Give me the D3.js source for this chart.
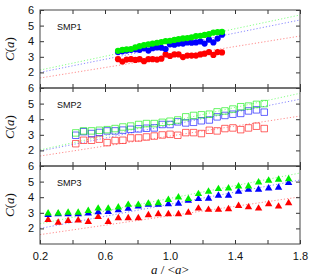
<!DOCTYPE html>
<html>
<head>
<meta charset="utf-8">
<script src="https://cdn.jsdelivr.net/npm/d3@7"></script>
<style>
  body { margin: 0; background: #fff; }
  svg { display: block; }
</style>
</head>
<body>
<div class="chart"></div>
<script>
// x ticks and panel names
const xTicks = [0.2, 0.4, 0.6, 0.8, 1.0, 1.2, 1.4, 1.6, 1.8]
const xLabels = [0.2, 0.6, 1.0, 1.4, 1.8]
const yTicks = [2, 3, 4, 5, 6]
const panels = ['SMP1', 'SMP2', 'SMP3']

// x positions of the points in each panel
const x1 = [0.68,0.707,0.733,0.76,0.787,0.813,0.84,0.867,0.893,0.92,0.947,0.973,1.0,1.027,1.053,1.08,1.107,1.133,1.16,1.187,1.213,1.24,1.267,1.293,1.32]
const x2 = [0.42,0.468,0.517,0.565,0.613,0.662,0.71,0.758,0.807,0.855,0.903,0.952,1.0,1.048,1.097,1.145,1.193,1.242,1.29,1.338,1.387,1.435,1.483,1.532,1.58]
const x3 = [0.25,0.312,0.373,0.435,0.497,0.558,0.62,0.682,0.743,0.805,0.867,0.928,0.99,1.052,1.113,1.175,1.237,1.298,1.36,1.422,1.483,1.545,1.607,1.668,1.73]

// SMP1 (filled circles)
const smp1Red   = [2.85,2.7,2.82,2.85,2.8,2.85,2.72,2.85,2.85,2.82,2.88,3.15,3.05,3.15,3.15,2.98,3.08,3.08,3.08,3.15,3.2,3.3,3.12,3.3,3.28]
const smp1Blue  = [3.3,3.35,3.4,3.45,3.48,3.45,3.55,3.4,3.55,3.6,3.58,3.5,3.8,3.78,3.85,3.85,3.92,3.9,3.92,3.98,3.85,4.1,3.92,4.17,4.42]
const smp1Green = [3.38,3.45,3.48,3.5,3.6,3.68,3.75,3.8,3.85,3.9,3.95,4.0,4.03,4.08,4.13,4.18,4.2,4.25,4.33,4.35,4.4,4.45,4.55,4.58,4.6]

// SMP2 (open squares)
const smp2Red   = [2.43,2.65,2.65,2.72,2.5,2.63,2.65,2.8,2.8,2.86,2.92,2.99,3.03,2.97,3.14,3.14,3.08,3.29,3.25,3.4,3.44,3.33,3.44,3.55,3.4]
const smp2Blue  = [2.97,3.2,3.08,3.15,3.25,3.25,3.3,3.35,3.38,3.42,3.44,3.66,3.66,3.83,3.76,3.8,3.9,3.95,4.15,4.24,4.32,4.37,4.53,4.6,4.45]
const smp2Green = [3.12,3.25,3.25,3.29,3.33,3.4,3.5,3.56,3.66,3.72,3.72,3.8,3.87,3.95,4.15,4.24,4.28,4.32,4.47,4.53,4.65,4.8,4.84,4.95,5.0]

// SMP3 (filled triangles)
const smp3Red   = [2.58,2.41,2.52,2.55,2.45,2.77,2.45,2.69,2.69,2.69,2.88,2.95,2.95,2.95,3.05,3.31,3.23,3.23,3.27,3.48,3.39,3.31,3.59,3.44,3.66]
const smp3Blue  = [2.9,2.95,2.95,2.95,3.0,3.08,3.1,3.2,3.3,3.44,3.55,3.55,3.59,3.62,3.81,3.92,3.94,4.13,4.13,4.39,4.52,4.52,4.6,4.65,4.95]
const smp3Green = [3.0,3.0,3.05,3.05,3.16,3.31,3.31,3.38,3.55,3.55,3.63,3.65,3.87,4.02,3.92,4.24,4.39,4.56,4.6,4.73,4.73,4.99,5.1,5.16,5.2]

// dotted fit lines: value at x=0.2 and x=1.8, order red, blue, green
const fitX = [0.2, 1.8]
const fit1 = [[1.64, 4.33], [2.0, 5.36], [2.15, 5.68]]
const fit2 = [[1.64, 4.2], [1.96, 5.28], [2.03, 5.66]]
const fit3 = [[1.6, 4.02], [2.0, 5.1], [2.3, 5.55]]

const w = 311, h = 280
const left = 40, right = 300
const tops = [10, 88, 166], ph = 78

const colors = ['#ff0000', '#0000ff', '#00ee00']
const fitColors = ['#ff8c8c', '#8a8aff', '#88ff88']

const data = [
  { xs: x1, ys: [smp1Red, smp1Blue, smp1Green], fit: fit1, kind: 'circle' },
  { xs: x2, ys: [smp2Red, smp2Blue, smp2Green], fit: fit2, kind: 'square' },
  { xs: x3, ys: [smp3Red, smp3Blue, smp3Green], fit: fit3, kind: 'triangle' }
]

const svg = d3.select('.chart').append('svg')
    .attr('width', w)
    .attr('height', h)

const x = d3.scaleLinear().domain([0.2, 1.8]).range([left, right])

data.forEach((p, k) => {
  const top = tops[k]
  const y = d3.scaleLinear().domain([1, 6]).range([top + ph, top])
  const g = svg.append('g')

  // fit lines
  p.fit.forEach((f, s) => {
    g.append('path')
      .datum(fitX.map((v, i) => [v, f[i]]))
      .attr('d', d3.line().x(d => x(d[0])).y(d => y(d[1])))
      .attr('fill', 'none')
      .attr('stroke', fitColors[s])
      .attr('stroke-width', 1)
      .attr('stroke-dasharray', '1.2,2')
  })

  // markers
  p.ys.forEach((vals, s) => {
    const pts = vals.map((v, i) => [p.xs[i], v])
    if (p.kind == 'circle') {
      g.selectAll(null).data(pts).enter().append('circle')
        .attr('cx', d => x(d[0]))
        .attr('cy', d => y(d[1]))
        .attr('r', 3.1)
        .attr('fill', colors[s])
    } else if (p.kind == 'square') {
      g.selectAll(null).data(pts).enter().append('path')
        .attr('d', d3.symbol(d3.symbolSquare, 42))
        .attr('transform', d => `translate(${x(d[0])},${y(d[1])})`)
        .attr('fill', 'none')
        .attr('stroke', colors[s])
        .attr('stroke-opacity', 0.6)
        .attr('stroke-width', 1)
    } else {
      g.selectAll(null).data(pts).enter().append('path')
        .attr('d', d3.symbol(d3.symbolTriangle, 24))
        .attr('transform', d => `translate(${x(d[0])},${y(d[1]) + 0.5})`)
        .attr('fill', colors[s])
    }
  })

  // axes with inward ticks
  const yl = g.append('g').attr('transform', `translate(${left},0)`)
    .call(d3.axisLeft(y).tickValues(yTicks).tickSize(-4).tickPadding(6).tickFormat(d3.format('d')))
  const yr = g.append('g').attr('transform', `translate(${right},0)`)
    .call(d3.axisRight(y).tickValues(yTicks).tickSize(-4).tickFormat(''))
  const xt = g.append('g').attr('transform', `translate(0,${top})`)
    .call(d3.axisTop(x).tickValues(xTicks).tickSize(-4).tickFormat(''))
  const xb = g.append('g').attr('transform', `translate(0,${top + ph})`)
    .call(d3.axisBottom(x).tickValues(xTicks).tickSize(-4).tickPadding(8)
      .tickFormat(d => (k == 2 && xLabels.some(v => Math.abs(v - d) < 1e-6)) ? d3.format('.1f')(d) : ''))

  ;[yl, yr, xt, xb].forEach(a => {
    a.select('.domain').remove()
    a.selectAll('line').attr('stroke', '#333')
    a.selectAll('text')
      .attr('font-family', 'Liberation Sans, Arial, sans-serif')
      .attr('font-size', 11)
      .attr('fill', '#111')
  })

  g.append('rect')
    .attr('x', left).attr('y', top)
    .attr('width', right - left).attr('height', ph)
    .attr('fill', 'none')
    .attr('stroke', '#444')
    .attr('stroke-width', 1)

  g.append('text')
    .text(panels[k])
    .attr('x', 57).attr('y', top + 20)
    .attr('font-family', 'Liberation Sans, Arial, sans-serif')
    .attr('font-size', 9)
    .attr('fill', '#111')

  const yt = g.append('text')
    .attr('transform', `translate(14,${top + ph / 2}) rotate(-90)`)
    .attr('text-anchor', 'middle')
    .attr('font-family', 'Liberation Serif, Times New Roman, serif')
    .attr('font-size', 13)
    .attr('fill', '#111')
  yt.append('tspan').attr('font-style', 'italic').text('C')
  yt.append('tspan').text('(')
  yt.append('tspan').attr('font-style', 'italic').text('a')
  yt.append('tspan').text(')')
})

const xtitle = svg.append('text')
  .attr('x', 170).attr('y', 274)
  .attr('text-anchor', 'middle')
  .attr('font-family', 'Liberation Serif, Times New Roman, serif')
  .attr('font-size', 13)
  .attr('fill', '#111')
xtitle.append('tspan').attr('font-style', 'italic').text('a')
xtitle.append('tspan').text(' / <')
xtitle.append('tspan').attr('font-style', 'italic').text('a')
xtitle.append('tspan').text('>')
</script>
</body>
</html>
